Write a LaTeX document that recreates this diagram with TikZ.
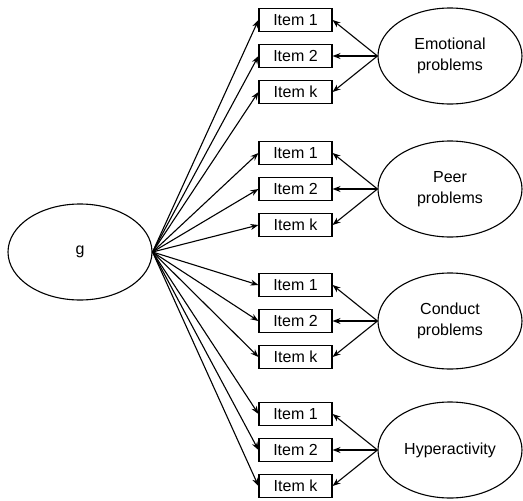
\documentclass[tikz,border=0pt]{standalone}
\usepackage{fontspec}
\setmainfont{Liberation Sans}
\usetikzlibrary{arrows.meta,shapes.geometric}
\begin{document}
\begin{tikzpicture}[x=1pt,y=-1pt,
  lat/.style={draw,ellipse,line width=1.1pt,minimum width=144pt,minimum height=96pt,inner sep=0pt,align=center,font=\fontsize{16}{21}\selectfont},
  itembox/.style={draw,rectangle,line width=1.1pt,minimum width=73pt,minimum height=23pt,inner sep=0pt,font=\fontsize{16}{18}\selectfont},
  arr/.style={line width=1.1pt,-{Stealth[length=8pt,width=6pt]}}]
\useasboundingbox (0,0) rectangle (523,501);
\node[lat] (g) at (80,252) {g};
\foreach \n/\y/\t in {e/56/{Emotional\\problems}, p/189/{Peer\\problems}, c/321/{Conduct\\problems}, h/450/{Hyperactivity}}{
  \node[lat] (\n) at (450,\y) {\t};
  \node[itembox] (\n1) at (295.5,\y-36) {Item 1};
  \node[itembox] (\n2) at (295.5,\y) {Item 2};
  \node[itembox] (\n3) at (295.5,\y+36) {Item k};
  \foreach \i in {1,2,3}{
    \draw[arr] (g.east) -- (\n\i.west);
    \draw[arr] (\n.west) -- (\n\i.east);
  }
}
\end{tikzpicture}
\end{document}
